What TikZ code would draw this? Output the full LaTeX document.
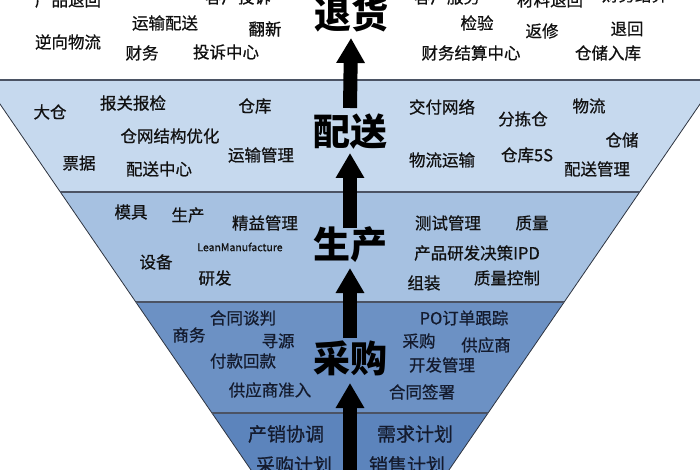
\documentclass[tikz,border=0pt]{standalone}
\usepackage{fontspec}
\usepackage{tikz}
\usetikzlibrary{arrows.meta,positioning,calc}
\newfontfamily\cjk{Noto Sans CJK SC}
\newfontfamily\cjkm{Noto Sans CJK SC}[FakeBold=0.7]
\definecolor{Ink}{HTML}{111111}
\definecolor{Navy}{HTML}{141B2E}
\definecolor{BandA}{HTML}{C6D9EE}
\definecolor{BandB}{HTML}{A6C1E1}
\definecolor{BandC}{HTML}{6C91C4}
\definecolor{BandD}{HTML}{5C84BC}
\definecolor{Sep}{HTML}{4B5364}
\definecolor{Edge}{HTML}{2E3440}
\tikzset{
  >=Latex,
  sep/.style={draw=Sep,line width=1.6pt},
  edge/.style={draw=Edge,line width=.8pt},
  item/.style={font=\cjkm\fontsize{16.5}{18}\selectfont,inner sep=0pt,text=Ink},
  itemdark/.style={item,text=Navy},
  itembig/.style={itemdark,font=\cjkm\fontsize{19}{21}\selectfont},
  tiny/.style={font=\cjkm\fontsize{10.5}{12}\selectfont,inner sep=0pt,text=Ink},
  stage/.style={font=\cjk\bfseries\fontsize{37}{40}\selectfont,inner sep=0pt,text=black},
  uparrow/.style={-{Triangle[length=25pt,width=27pt]},line width=14pt,draw=black}
}
\begin{document}
\begin{tikzpicture}[x=1pt,y=-1pt]
  \useasboundingbox (0,0) rectangle (700,470);
  \clip (0,0) rectangle (700,470);
  % bands
  \fill[white] (-99,-40) -- (799,-40) -- (716.5,80) -- (-16.5,80) -- cycle;
  \fill[BandA] (-16.5,80) -- (716.5,80) -- (639.7,192) -- (60.3,192) -- cycle;
  \fill[BandB] (60.3,192) -- (639.7,192) -- (564.2,302) -- (135.8,302) -- cycle;
  \fill[BandC] (135.8,302) -- (564.2,302) -- (488.1,413) -- (211.9,413) -- cycle;
  \fill[BandD] (211.9,413) -- (488.1,413) -- (442.1,480) -- (257.9,480) -- cycle;
  \draw[edge] (-16.5,80) -- (257.9,480);
  \draw[edge] (716.5,80) -- (442.1,480);
  \draw[sep] (-16.5,80) -- (716.5,80);
  \draw[sep] (60.3,192) -- (639.7,192);
  \draw[sep] (135.8,302) -- (564.2,302);
  \draw[sep] (211.9,413) -- (488.1,413);

  % stage labels
  \node[stage] (ret) at (351,14) {退货};
  \node[stage] (dlv) at (350,132) {配送};
  \node[stage] (prd) at (350,245) {生产};
  \node[stage] (src) at (350,358) {采购};
  \coordinate (base) at (350,480);

  % arrows
  \draw[uparrow] (base) -- ([yshift=-25pt]src.center);
  \draw[uparrow] ([yshift=20pt]src.center) -- ([yshift=-23pt]prd.center);
  \draw[uparrow] ([yshift=17pt]prd.center) -- ([yshift=-21pt]dlv.center);
  \draw[uparrow] ([yshift=24pt]dlv.center) -- ([yshift=-24pt]ret.center);

  % returns
  \node[item] (r1) at (68,0) {产品退回};
  \node[item] (r2) at (238,-3) {客户投诉};
  \node[item] (r3) at (165,23) {运输配送};
  \node[item] (r4) at (265,29) {翻新};
  \node[item] (r5) at (68,42) {逆向物流};
  \node[item] (r6) at (142,53) {财务};
  \node[item] (r7) at (226,52) {投诉中心};
  \node[item] (r8) at (447,-3) {客户服务};
  \node[item] (r9) at (550,0) {材料退回};
  \node[item] (r10) at (635,-5) {财务结算};
  \node[item] (r11) at (477,23) {检验};
  \node[item] (r12) at (542,31) {返修};
  \node[item] (r13) at (627,29) {退回};
  \node[item] (r14) at (471,53) {财务结算中心};
  \node[item] (r15) at (608,53) {仓储入库};

  % delivery
  \node[item] (d1) at (50,112) {大仓};
  \node[item] (d2) at (133,103) {报关报检};
  \node[item] (d3) at (255,106) {仓库};
  \node[item] (d4) at (170,136) {仓网结构优化};
  \node[item] (d5) at (261,155) {运输管理};
  \node[item] (d6) at (79,163) {票据};
  \node[item] (d7) at (159,169) {配送中心};
  \node[item] (d8) at (442,107) {交付网络};
  \node[item] (d9) at (523,119) {分拣仓};
  \node[item] (d10) at (589,106) {物流};
  \node[item] (d11) at (622,140) {仓储};
  \node[item] (d12) at (442,160) {物流运输};
  \node[item] (d13) at (527,155) {仓库5S};
  \node[item] (d14) at (597,169) {配送管理};

  % production
  \node[item] (p1) at (131,212) {模具};
  \node[item] (p2) at (188,215) {生产};
  \node[item] (p3) at (265,223) {精益管理};
  \node[tiny] (p4) at (240,247) {LeanManufacture};
  \node[item] (p5) at (156,262) {设备};
  \node[item] (p6) at (215,278) {研发};
  \node[item] (p7) at (448,223) {测试管理};
  \node[item] (p8) at (532,223) {质量};
  \node[item] (p9) at (477,253) {产品研发决策IPD};
  \node[item] (p10) at (424,283) {组装};
  \node[item] (p11) at (507,278) {质量控制};

  % sourcing
  \node[itemdark] (s1) at (243,318) {合同谈判};
  \node[itemdark] (s2) at (189,335) {商务};
  \node[itemdark] (s3) at (278,341) {寻源};
  \node[itemdark] (s4) at (243,361) {付款回款};
  \node[itemdark] (s5) at (270,390) {供应商准入};
  \node[itemdark] (s6) at (464,318) {PO订单跟踪};
  \node[itemdark] (s7) at (419,341) {采购};
  \node[itemdark] (s8) at (486,345) {供应商};
  \node[itemdark] (s9) at (442,365) {开发管理};
  \node[itemdark] (s10) at (422,392) {合同签署};

  % planning
  \node[itembig] (b1) at (286,434) {产销协调};
  \node[itembig] (b2) at (415,434) {需求计划};
  \node[itembig] (b3) at (294,465) {采购计划};
  \node[itembig] (b4) at (407,465) {销售计划};
\end{tikzpicture}
\end{document}
